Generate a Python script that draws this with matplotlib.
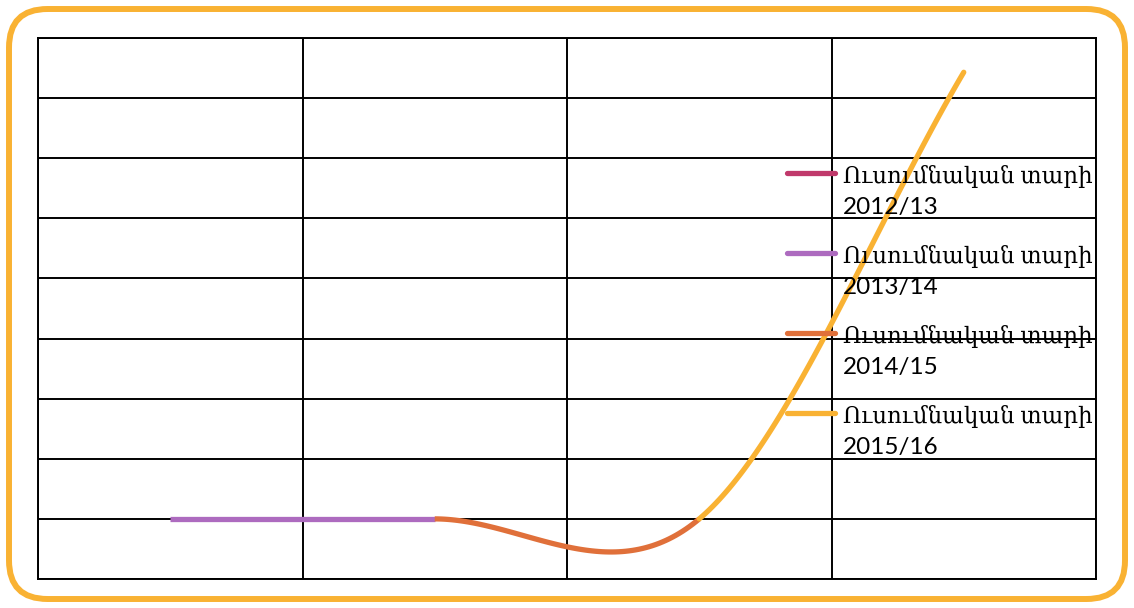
import numpy as np
import matplotlib.pyplot as plt
from matplotlib.patches import FancyBboxPatch
from matplotlib.lines import Line2D

W, H = 1134, 608

years = ["2012/13", "2013/14", "2014/15", "2015/16"]
label_prefix = "Ուսումնական տարի"
values = [1, 1, 1, 8.43]
colors = ["#C0396B", "#AD6BBF", "#E0703A", "#F9B233"]


def smooth_segments(xs, ys, n=80):
    # catmull-rom style curve, end tangents taken from the end segment
    segs = []
    k = len(xs)
    for i in range(k - 1):
        if i == 0:
            m0 = ys[1] - ys[0]
        else:
            m0 = (ys[i + 1] - ys[i - 1]) / 2
        if i + 1 == k - 1:
            m1 = ys[i + 1] - ys[i]
        else:
            m1 = (ys[i + 2] - ys[i]) / 2
        t = np.linspace(0, 1, n)
        h00 = 2 * t**3 - 3 * t**2 + 1
        h10 = t**3 - 2 * t**2 + t
        h01 = -2 * t**3 + 3 * t**2
        h11 = t**3 - t**2
        y = h00 * ys[i] + h10 * m0 + h01 * ys[i + 1] + h11 * m1
        x = xs[i] + t * (xs[i + 1] - xs[i])
        segs.append((x, y))
    return segs


fig = plt.figure(figsize=(W / 100, H / 100), dpi=100)
ax = fig.add_axes([38 / W, (H - 579) / H, 1058 / W, 541 / H])

# rounded orange border round the whole chart
border = FancyBboxPatch((9 / W, 9 / H), (W - 18) / W, (H - 18) / H,
                        boxstyle="round,pad=0,rounding_size=0.034",
                        transform=fig.transFigure, fill=False,
                        edgecolor="#F9B233", linewidth=4.3, mutation_aspect=W / H)
fig.patches.append(border)

x = np.arange(len(years))
segs = smooth_segments(x, values)
for i, (sx, sy) in enumerate(segs):
    ax.plot(sx, sy, color=colors[i + 1], linewidth=3.8,
            solid_capstyle="round" if i == len(segs) - 1 else "butt", zorder=3)

ax.set_xlim(-0.5, 3.5)
ax.set_ylim(0, 9)
ax.set_yticks(range(10))
ax.set_xticks(np.arange(-0.5, 3.6, 1))
ax.grid(True, color="black", linewidth=1.4)
ax.tick_params(length=0, labelleft=False, labelbottom=False)
for s in ax.spines.values():
    s.set_linewidth(1.4)
ax.set_axisbelow(True)

# legend, drawn by hand so the handle sits on the first text line
for i, yr in enumerate(years):
    ly = 173 + 80 * i
    fig.add_artist(Line2D([787 / W, 835 / W], [1 - ly / H, 1 - ly / H],
                          transform=fig.transFigure, color=colors[i],
                          linewidth=3.8, solid_capstyle="round", zorder=5))
    fig.text(843 / W, 1 - (ly + 10) / H, label_prefix,
             fontsize=16.5, va="baseline", ha="left",
             family=["Lato", "DejaVu Serif"], zorder=5)
    fig.text(843 / W, 1 - (ly + 41) / H, yr,
             fontsize=17.5, va="baseline", ha="left",
             family=["Lato", "DejaVu Sans"], zorder=5)

fig.savefig("out.png", dpi=100)
